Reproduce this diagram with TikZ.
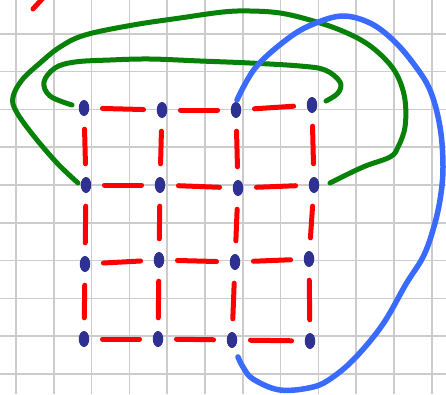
\documentclass[tikz,border=0pt]{standalone}
\usepackage{tikz}
\usetikzlibrary{shapes.geometric}

\begin{document}
\begin{tikzpicture}[
  x=1pt, y=-1pt,
  gridline/.style={draw=black!20, line width=1.6pt},
  dot/.style={ellipse, fill=dotblue, inner sep=0pt, minimum width=10.5pt, minimum height=16pt},
  edge/.style={draw=red, line width=5pt, line cap=round, shorten <=13pt, shorten >=13pt},
  loopline/.style={line width=5pt, line cap=round, line join=round},
]
\definecolor{dotblue}{HTML}{2E3192}
\definecolor{penblue}{HTML}{3A6BFF}
\definecolor{pengreen}{HTML}{078107}
\clip (0,0) rectangle (446,394);
\fill[white] (0,0) rectangle (446,394);

\foreach \k in {0,...,11}
  \draw[gridline] (16+37.8*\k,0) -- (16+37.8*\k,394);
\foreach \k in {1,...,10}
  \draw[gridline] (0,-4+37.8*\k) -- (446,-4+37.8*\k);

\foreach \n/\x/\y in {11/84/108, 12/162/110, 13/236/110, 14/312/105,
                      21/86/185, 22/160/185, 23/238/188, 24/314/185,
                      31/85/264, 32/159/260, 33/235/262, 34/309/259,
                      41/84/339, 42/158/339, 43/232/340, 44/310/341}
  \node[dot] (d\n) at (\x,\y) {};

\foreach \r in {1,...,4}
  \foreach \a/\b in {1/2, 2/3, 3/4}
    \draw[edge] (d\r\a) -- (d\r\b);
\foreach \c in {1,...,4}
  \foreach \a/\b in {1/2, 2/3, 3/4}
    \draw[edge] (d\a\c) -- (d\b\c);

\coordinate (innerstart) at (72,105);
\coordinate (innerend) at (326,101);
\coordinate (outerstart) at (78,183);
\coordinate (outerend) at (330,183);
\coordinate (bluestart) at (237,100);
\coordinate (blueend) at (238,357);

\draw[loopline, pengreen] plot[smooth, tension=0.6] coordinates {
  (innerstart) (50,96) (44,82) (55,68) (75,62) (110,60) (150,59) (200,61)
  (250,63) (300,66) (325,70) (340,82) (338,93) (innerend)};
\draw[loopline, pengreen] plot[smooth, tension=0.6] coordinates {
  (outerstart) (57,163) (33,135) (16,111) (13,97) (22,80) (40,63) (60,47)
  (85,35) (133,25) (180,18) (223,12) (250,11) (280,13) (310,20) (340,30)
  (366,43) (386,60) (398,77) (405,100) (405,127) (398,147) (390,157)
  (363,167) (outerend)};

\draw[loopline, penblue, line width=5.5pt] plot[smooth, tension=0.6] coordinates {
  (bluestart) (256,67) (290,37) (316,23) (343,16) (370,23) (393,40) (413,63)
  (430,90) (440,127) (443,167) (440,200) (433,230) (423,257) (406,284)
  (383,324) (356,357) (333,377) (313,387) (280,390) (253,379) (243,367)
  (blueend)};

\draw[loopline, red] (33,9) -- (43,-2);
\end{tikzpicture}
\end{document}
